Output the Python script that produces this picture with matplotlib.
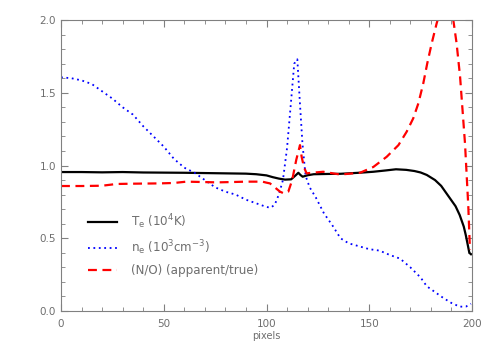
import numpy as np
import matplotlib
matplotlib.use('Agg')
import matplotlib.pyplot as plt
from matplotlib.ticker import MultipleLocator

# electron temperature (10^4 K)
te_x = [0, 10, 20, 30, 40, 50, 60, 70, 80, 90, 95, 100, 103, 106, 109, 112, 114,
        115.5, 116.5, 117.6, 120, 123, 130, 136, 145, 152, 158, 163, 168, 172, 175,
        178, 182, 185, 188, 190, 192, 194, 196, 197, 198, 198.7, 199.5]
te_y = [0.955, 0.955, 0.953, 0.955, 0.952, 0.951, 0.950, 0.948, 0.946, 0.944, 0.940,
        0.932, 0.920, 0.910, 0.903, 0.905, 0.930, 0.950, 0.935, 0.923, 0.933, 0.940,
        0.942, 0.943, 0.950, 0.957, 0.966, 0.974, 0.970, 0.962, 0.952, 0.935, 0.900,
        0.860, 0.800, 0.760, 0.720, 0.660, 0.580, 0.520, 0.450, 0.400, 0.390]

# electron density (10^3 cm^-3)
ne_x = [0, 5, 10, 15, 20, 25, 30, 35, 40, 45, 50, 55, 60, 65, 70, 75, 80, 85, 90, 95,
        100, 102, 104, 106, 108, 110, 112, 113.5, 115, 116.3, 117.5, 119, 121, 124,
        128, 132, 136, 140, 145, 150, 155, 160, 165, 170, 175, 178, 182, 186, 190,
        194, 197, 199.5]
ne_y = [1.606, 1.600, 1.585, 1.560, 1.510, 1.460, 1.400, 1.350, 1.270, 1.200, 1.130,
        1.045, 0.985, 0.950, 0.900, 0.850, 0.820, 0.800, 0.765, 0.740, 0.715, 0.710,
        0.730, 0.800, 0.900, 1.120, 1.450, 1.700, 1.730, 1.420, 1.150, 0.930, 0.850,
        0.780, 0.670, 0.590, 0.500, 0.465, 0.445, 0.425, 0.415, 0.385, 0.360, 0.300,
        0.230, 0.170, 0.130, 0.090, 0.055, 0.030, 0.030, 0.050]

# (N/O) apparent / true
no_x = [0, 10, 20, 27, 35, 48, 55, 61, 70, 76, 85, 90, 98, 100, 101.7, 104, 106.6,
        108.5, 110.6, 112.5, 114.5, 116.3, 117.1, 118.2, 119.5, 122, 127.6, 135.8,
        145.5, 152, 158.5, 164.2, 168.2, 171.4, 173.9, 176.3, 178.2, 180.4, 182.8,
        185, 187, 189, 190.9, 192.5, 194.2, 195.4, 196.6, 197.4, 198.2, 199]
no_y = [0.859, 0.859, 0.861, 0.873, 0.875, 0.877, 0.880, 0.889, 0.886, 0.884, 0.887,
        0.889, 0.889, 0.882, 0.877, 0.850, 0.820, 0.808, 0.820, 0.900, 1.040, 1.140,
        1.060, 0.990, 0.946, 0.950, 0.957, 0.938, 0.950, 0.990, 1.060, 1.140, 1.232,
        1.324, 1.427, 1.565, 1.700, 1.840, 1.977, 2.080, 2.110, 2.080, 2.000, 1.840,
        1.610, 1.380, 1.150, 0.935, 0.720, 0.420]

labels = [r'T$_{\rm e}$ (10$^4$K)', r'n$_{\rm e}$ (10$^3$cm$^{-3}$)',
          '(N/O) (apparent/true)']

grey = '#808080'
txt = '#6e6e6e'

fig = plt.figure(figsize=(4.91, 3.5), dpi=100)
ax = fig.add_axes([61 / 491., 1 - 311 / 350., 411 / 491., 291 / 350.])

ax.plot(te_x, te_y, color='black', lw=1.6, label=labels[0])
ax.plot(ne_x, ne_y, color='blue', lw=1.3, ls=(0, (1, 2)), label=labels[1])
ax.plot(no_x, no_y, color='red', lw=1.6, ls=(0, (4, 2.5)), label=labels[2])

ax.set_xlim(0, 200)
ax.set_ylim(0, 2.0)
ax.xaxis.set_major_locator(MultipleLocator(50))
ax.xaxis.set_minor_locator(MultipleLocator(10))
ax.yaxis.set_major_locator(MultipleLocator(0.5))
ax.yaxis.set_minor_locator(MultipleLocator(0.1))
ax.yaxis.set_major_formatter(matplotlib.ticker.FormatStrFormatter('%.1f'))
ax.tick_params(which='both', direction='in', top=True, right=True,
               color=grey, labelcolor=txt, labelsize=7.5)
ax.tick_params(which='major', length=5)
ax.tick_params(which='minor', length=3)
ax.tick_params(axis='x', pad=6)
for s in ax.spines.values():
    s.set_color(grey)
ax.set_xlabel('pixels', color=txt, fontsize=7, labelpad=1)

leg = ax.legend(loc='upper left', bbox_to_anchor=(0.066, 0.34), frameon=False,
                fontsize=8.6, handlelength=2.4, handletextpad=1.2, labelspacing=0.62,
                borderpad=0, borderaxespad=0)
for t in leg.get_texts():
    t.set_color(txt)

fig.savefig('out.png', dpi=100)
